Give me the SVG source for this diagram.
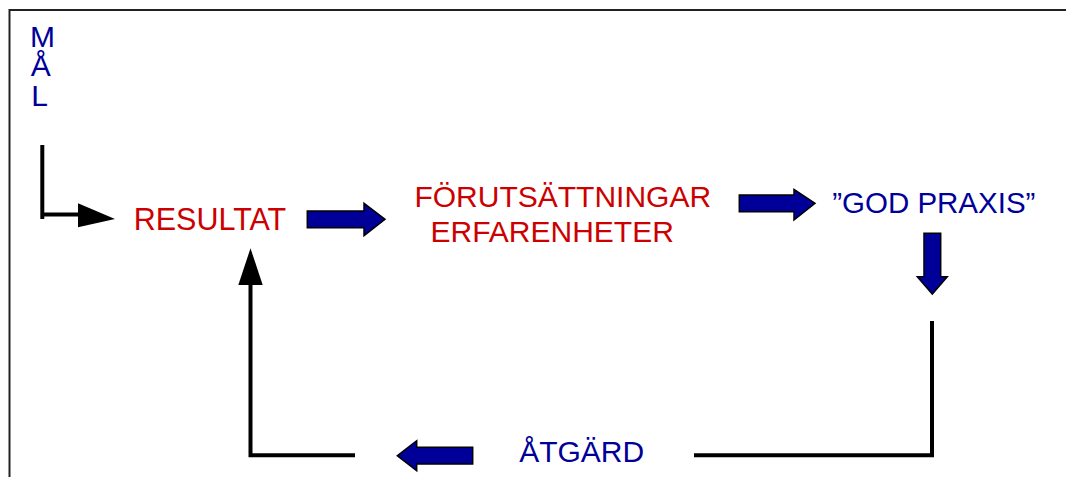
<svg xmlns="http://www.w3.org/2000/svg" width="1066" height="477" viewBox="0 0 1066 477">
<style>
  text { font-family: "Liberation Sans", Arial, sans-serif; font-size: 30px; }
  .red { fill: #CC0000; }
  .blue { fill: #000099; }
  .line { stroke: #000; stroke-width: 4; fill: none; }
  .block { fill: #000099; stroke: #000; stroke-width: 1.5; stroke-linejoin: miter; }
  .head { fill: #000; }
  .frame { stroke: #222; stroke-width: 2; fill: none; }
</style>
<rect width="1066" height="477" fill="#fff"/>
<path class="frame" d="M9.5,477 V10 H1066"/>

<g id="mal">
  <text class="blue" text-anchor="middle"><tspan x="42.5" y="46.7">M</tspan><tspan x="40.8" y="76">Å</tspan><tspan x="39.7" y="105.7">L</tspan></text>
</g>
<g id="resultat">
  <text class="red" x="210" y="230" text-anchor="middle" style="font-size:30.5px">RESULTAT</text>
</g>
<g id="forutsattningar">
  <text class="red" x="562.8" y="206.7" text-anchor="middle">FÖRUTSÄTTNINGAR</text>
  <text class="red" x="552.2" y="241.7" text-anchor="middle">ERFARENHETER</text>
</g>
<g id="godpraxis">
  <text class="blue" x="933.8" y="212.5" text-anchor="middle" style="font-size:29.5px">”GOD PRAXIS”</text>
</g>
<g id="atgard">
  <text class="blue" x="581.7" y="462.3" text-anchor="middle">ÅTGÄRD</text>
</g>

<g id="connectors">
  <path class="line" d="M42.3,145 V219" />
  <path class="line" d="M42.3,214.5 H80" stroke-width="3"/>
  <polygon class="head" points="78,203.3 115,219 78,227.3"/>

  <polygon class="block" points="307.3,211 364,211 364,203.3 385,219.3 364,235.7 364,227.7 307.3,227.7"/>
  <polygon class="block" points="739.3,195 794,195 794,189.3 815,203.3 794,220 794,211.7 739.3,211.7"/>
  <polygon class="block" points="924,233.3 940.7,233.3 940.7,276.7 947.3,276.7 932.3,294 917.3,276.7 924,276.7"/>
  <polygon class="block" points="472.7,447.3 416.7,447.3 416.7,440.7 397.3,455.7 416.7,470.7 416.7,464 472.7,464"/>

  <path class="line" d="M932,321 V455.3 H694" />
  <path class="line" d="M355,455.3 H250.5 V280" />
  <polygon class="head" points="238.3,285 250.5,248.3 262.7,285"/>
</g>
</svg>
